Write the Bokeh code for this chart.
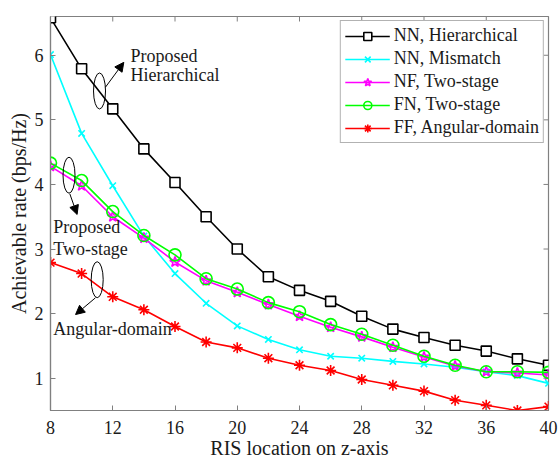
import math
from bokeh.plotting import figure
from bokeh.models import Range1d, FixedTicker, Arrow, NormalHead
from bokeh.embed import file_html
from bokeh.resources import INLINE
from bokeh.core.properties import value

# ---------------- data ----------------
ris_z = [8, 10, 12, 14, 16, 18, 20, 22, 24, 26, 28, 30, 32, 34, 36, 38, 40]
nn_hierarchical = [6.58, 5.79, 5.17, 4.55, 4.03, 3.50, 3.00, 2.57, 2.36, 2.19, 1.96, 1.76, 1.63, 1.51, 1.42, 1.30, 1.20]
nn_mismatch = [6.01, 4.79, 3.98, 3.20, 2.62, 2.16, 1.81, 1.60, 1.44, 1.34, 1.31, 1.26, 1.22, 1.17, 1.10, 1.04, 0.92]
nf_two_stage = [4.28, 3.98, 3.50, 3.17, 2.80, 2.51, 2.33, 2.14, 1.96, 1.79, 1.64, 1.48, 1.33, 1.19, 1.10, 1.08, 1.05]
fn_two_stage = [4.33, 4.06, 3.58, 3.21, 2.91, 2.54, 2.38, 2.17, 2.03, 1.83, 1.68, 1.51, 1.34, 1.20, 1.10, 1.10, 1.09]
ff_angular = [2.79, 2.62, 2.26, 2.06, 1.80, 1.56, 1.47, 1.31, 1.20, 1.12, 0.98, 0.89, 0.80, 0.66, 0.58, 0.50, 0.56]

x_ticks = [8, 12, 16, 20, 24, 28, 32, 36, 40]
y_ticks = [1, 2, 3, 4, 5, 6]
x_lim = [8, 40]
y_lim = [0.5, 6.6]

series_labels = ["NN, Hierarchical", "NN, Mismatch", "NF, Two-stage", "FN, Two-stage", "FF, Angular-domain"]

# annotation texts (data coordinates)
note_texts = ["Proposed", "Hierarchical", "Proposed", "Two-stage", "Angular-domain"]
note_x = [13.14, 13.14, 8.17, 8.17, 8.17]
note_y = [5.996, 5.687, 3.338, 3.003, 1.765]
ell_x = [11.15, 9.19, 11.0]
ell_y = [5.447, 4.143, 2.525]
arrows = [((11.53, 5.505), (12.71, 5.89)),
          ((9.24, 3.855), (9.71, 3.535)),
          ((10.89, 2.245), (9.61, 1.986))]

FONT = "Liberation Serif"
AX = "#808080"
TXT = "#1a1a1a"

p = figure(width=558, height=463, output_backend="svg", toolbar_location=None,
           x_range=Range1d(*x_lim), y_range=Range1d(*y_lim),
           min_border_left=50, min_border_right=10, min_border_top=16, min_border_bottom=53)
p.background_fill_color = "white"
p.border_fill_color = "white"
p.outline_line_color = AX
p.outline_line_width = 1.2
p.xgrid.visible = False
p.ygrid.visible = False

for ax, ticks in ((p.xaxis[0], x_ticks), (p.yaxis[0], y_ticks)):
    ax.ticker = FixedTicker(ticks=ticks)
    ax.axis_line_color = AX
    ax.axis_line_width = 1.2
    ax.major_tick_line_color = AX
    ax.major_tick_in = 5
    ax.major_tick_out = 0
    ax.minor_tick_line_color = None
    ax.major_label_text_font = FONT
    ax.major_label_text_color = TXT
    ax.major_label_text_font_size = "18px"
    ax.axis_label_text_font = FONT
    ax.axis_label_text_font_style = "normal"
    ax.axis_label_text_font_size = "20px"
    ax.axis_label_text_color = TXT

p.xaxis.major_label_standoff = 10
p.yaxis.major_label_standoff = 7
p.xaxis.axis_label = "RIS location on z-axis"
p.yaxis.axis_label = "Achievable rate (bps/Hz)"
p.xaxis.axis_label_standoff = 0
p.yaxis.axis_label_standoff = 2

# inward ticks on the top and right edges of the box
p.ray(x=x_ticks, y=[y_lim[1]] * len(x_ticks), length=5, length_units="screen",
      angle=-math.pi / 2, line_color=AX, line_width=1)
p.ray(x=[x_lim[1]] * len(y_ticks), y=y_ticks, length=5, length_units="screen",
      angle=math.pi, line_color=AX, line_width=1)

series = [
    (nn_hierarchical, "black", "square", 10, "white"),
    (nn_mismatch, "#00FFFF", "x", 9, None),
    (nf_two_stage, "#FF00FF", "star", 11, None),
    (fn_two_stage, "#00FF00", "circle", 12, None),
    (ff_angular, "#FF0000", "asterisk", 11, None),
]
for (vals, col, mk, sz, fill), lab in zip(series, series_labels):
    p.line(ris_z, vals, line_color=col, line_width=1.6, legend_label=lab)
    p.scatter(ris_z, vals, marker=mk, size=sz, line_color=col, line_width=1.6,
              fill_color=fill, legend_label=lab)

# annotations
p.ellipse(x=ell_x, y=ell_y, width=12, height=36, width_units="screen", height_units="screen",
          fill_color=None, line_color="black", line_width=1)
for (s, e) in arrows:
    p.add_layout(Arrow(end=NormalHead(size=9, fill_color="black", line_color="black"),
                       x_start=s[0], y_start=s[1], x_end=e[0], y_end=e[1],
                       line_color="black", line_width=1))
p.text(x=note_x, y=note_y, text=note_texts, text_font=value(FONT), text_font_size="18px",
       text_align="left", text_baseline="middle", text_color=TXT)

leg = p.legend[0]
leg.location = "top_right"
leg.margin = 4
leg.padding = 4
leg.spacing = 2
leg.glyph_width = 45
leg.glyph_height = 20
leg.label_height = 20
leg.label_standoff = 4
leg.label_text_font = FONT
leg.label_text_font_size = "18px"
leg.label_text_color = TXT
leg.border_line_color = "#666666"
leg.border_line_width = 1
leg.background_fill_color = "white"
leg.background_fill_alpha = 1.0

open("out.html", "w").write(file_html(p, INLINE))
